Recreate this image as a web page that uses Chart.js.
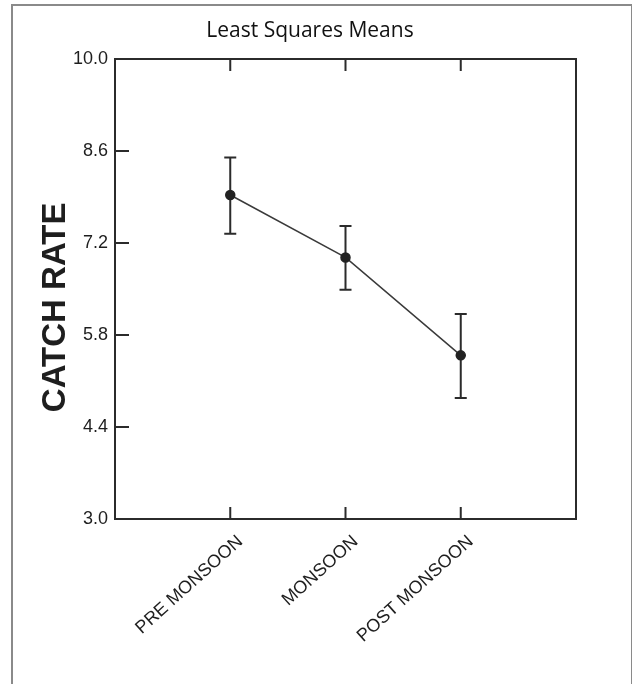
<!DOCTYPE html>
<html>
<head>
<meta charset="utf-8">
<script src="https://cdn.jsdelivr.net/npm/chart.js@4/dist/chart.umd.min.js"></script>
<style>
    body { margin: 0; background: #fff; }
    .frame {
        position: absolute; left: 11px; top: 4px;
        width: 618px; height: 700px;
        border: 2px solid #8a8a8a; border-bottom: none;
    }
    #chart { position: absolute; left: 0; top: 0; }
</style>
</head>
<body>
<div class="frame"></div>
<canvas id="chart" width="632" height="684"></canvas>
<script>
const categories = ["PRE MONSOON", "MONSOON", "POST MONSOON"];
const means = [7.93, 6.98, 5.49];
const lowerCI = [7.34, 6.49, 4.84];
const upperCI = [8.50, 7.46, 6.12];
const yTicks = [3.0, 4.4, 5.8, 7.2, 8.6, 10.0];

const ink = "#2b2b2b";

// error bars, plot frame and the inward tick marks
const decorations = {
    id: "decorations",
    beforeDatasetsDraw(chart) {
        const ctx = chart.ctx;
        const y = chart.scales.y;
        const x = chart.scales.x;
        ctx.save();
        ctx.strokeStyle = ink;
        ctx.lineWidth = 2;
        means.forEach((m, i) => {
            const px = x.getPixelForValue(i + 1);
            const top = y.getPixelForValue(upperCI[i]);
            const bot = y.getPixelForValue(lowerCI[i]);
            ctx.beginPath();
            ctx.moveTo(px, top);
            ctx.lineTo(px, bot);
            ctx.moveTo(px - 6, top);
            ctx.lineTo(px + 6, top);
            ctx.moveTo(px - 6, bot);
            ctx.lineTo(px + 6, bot);
            ctx.stroke();
        });
        ctx.restore();
    },
    afterDraw(chart) {
        const ctx = chart.ctx;
        const area = chart.chartArea;
        const y = chart.scales.y;
        const x = chart.scales.x;
        ctx.save();
        ctx.strokeStyle = ink;
        ctx.lineWidth = 2;
        ctx.strokeRect(area.left, area.top, area.right - area.left, area.bottom - area.top);
        ctx.beginPath();
        yTicks.forEach(v => {
            const py = y.getPixelForValue(v);
            ctx.moveTo(area.left, py);
            ctx.lineTo(area.left + 14, py);
        });
        categories.forEach((c, i) => {
            const px = x.getPixelForValue(i + 1);
            ctx.moveTo(px, area.bottom);
            ctx.lineTo(px, area.bottom - 12);
            ctx.moveTo(px, area.top);
            ctx.lineTo(px, area.top + 12);
        });
        ctx.stroke();
        ctx.restore();
    }
};

new Chart(document.getElementById("chart"), {
    type: "line",
    data: {
        datasets: [{
            data: means.map((m, i) => ({ x: i + 1, y: m })),
            borderColor: "#3a3a3a",
            borderWidth: 1.5,
            backgroundColor: "#222",
            pointBackgroundColor: "#222",
            pointBorderColor: "#222",
            pointRadius: 4.5,
            tension: 0
        }]
    },
    options: {
        responsive: false,
        animation: false,
        layout: {
            padding: { left: 0, right: 12, top: 0, bottom: 0 }
        },
        plugins: {
            legend: { display: false },
            tooltip: { enabled: false },
            title: {
                display: true,
                text: "Least Squares Means",
                color: "#111",
                font: { family: "Open Sans", size: 21, weight: "normal" },
                padding: { top: 18, bottom: 15.8 }
            }
        },
        scales: {
            x: {
                type: "linear",
                min: 0,
                max: 4,
                grid: { display: false, drawTicks: false, tickLength: 0 },
                border: { display: false },
                afterBuildTicks: scale => {
                    scale.ticks = categories.map((c, i) => ({ value: i + 1 }));
                },
                afterFit: scale => { scale.height = 165; },
                ticks: {
                    autoSkip: false,
                    minRotation: 42,
                    maxRotation: 42,
                    padding: 12,
                    labelOffset: 10,
                    color: "#1e1e1e",
                    font: { family: "Liberation Sans", size: 18 },
                    callback: v => categories[v - 1] || ""
                }
            },
            y: {
                min: 3,
                max: 10,
                grid: { display: false, drawTicks: false, tickLength: 0 },
                border: { display: false },
                afterBuildTicks: scale => {
                    scale.ticks = yTicks.map(v => ({ value: v }));
                },
                afterFit: scale => { scale.width = 115; },
                ticks: {
                    padding: 7,
                    color: "#1e1e1e",
                    font: { family: "Liberation Sans", size: 18 },
                    callback: v => Number(v).toFixed(1)
                },
                title: {
                    display: true,
                    text: "CATCH RATE\u00a0\u00a0\u00a0\u00a0",
                    color: "#1e1e1e",
                    font: { family: "Liberation Sans", size: 33, weight: "bold" },
                    padding: { top: 36, bottom: 0 }
                }
            },
            // empty right-hand axis that only reserves the margin right of the plot
            yRight: {
                position: "right",
                display: true,
                grid: { display: false, drawTicks: false, tickLength: 0 },
                border: { display: false },
                ticks: { display: false },
                afterFit: scale => { scale.width = 44; }
            }
        }
    },
    plugins: [decorations]
});
</script>
</body>
</html>
